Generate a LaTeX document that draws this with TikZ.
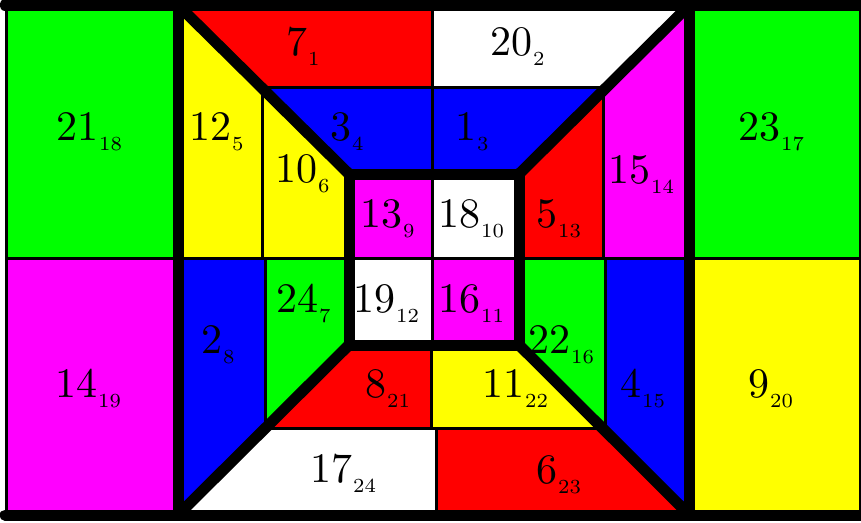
\documentclass[tikz,border=0pt]{standalone}
\usepackage{fontspec}
\newfontfamily\lmten[Extension=.otf]{lmroman10-regular}
\newfontfamily\lmseven[Extension=.otf]{lmroman7-regular}
\definecolor{cR}{RGB}{255,0,0}
\definecolor{cG}{RGB}{0,255,0}
\definecolor{cB}{RGB}{0,0,255}
\definecolor{cY}{RGB}{255,255,0}
\definecolor{cM}{RGB}{255,0,255}
\definecolor{cW}{RGB}{255,255,255}
\newcommand\lab[2]{{\lmten\fontsize{42}{42}\selectfont #1}\kern1pt\raisebox{-10pt}{\lmseven\fontsize{20}{20}\selectfont #2}}
\begin{document}
\begin{tikzpicture}[x=1pt,y=-1pt,
  fineline/.style={line width=3pt, black},
  boldline/.style={line width=11pt, black, line cap=round},
  lbl/.style={anchor=base west, inner sep=0pt, text=black}]
\useasboundingbox (0,0) rectangle (861,522);
% outer panels
\fill[cG] (6,5) rectangle (178,258);
\fill[cM] (6,258) rectangle (178,515);
\fill[cG] (689.5,5) rectangle (860,258);
\fill[cY] (689.5,258) rectangle (860,515);
% top trapezoid
\fill[cR] (178,5) -- (432,5) -- (432,87.5) -- (261.5,87.5) -- cycle;
\fill[cW] (432,5) -- (689.5,5) -- (606.3,87.5) -- (432,87.5) -- cycle;
\fill[cB] (261.5,87.5) -- (432,87.5) -- (432,174) -- (349,174) -- cycle;
\fill[cB] (432,87.5) -- (606.3,87.5) -- (519,174) -- (432,174) -- cycle;
% left trapezoid
\fill[cY] (178,5) -- (262,88) -- (262,258) -- (178,258) -- cycle;
\fill[cY] (262,88) -- (349,174) -- (349,258) -- (262,258) -- cycle;
\fill[cB] (178,258) -- (265.5,258) -- (265.5,428) -- (178,515) -- cycle;
\fill[cG] (265.5,258) -- (349,258) -- (349,345) -- (265.5,428) -- cycle;
% right trapezoid
\fill[cR] (519,174) -- (603.5,90.2) -- (603.5,258) -- (519,258) -- cycle;
\fill[cM] (603.5,90.2) -- (689.5,5) -- (689.5,258) -- (603.5,258) -- cycle;
\fill[cG] (519,258) -- (605.5,258) -- (605.5,431.2) -- (519,345) -- cycle;
\fill[cB] (605.5,258) -- (689.5,258) -- (689.5,515) -- (605.5,431.2) -- cycle;
% bottom trapezoid
\fill[cR] (349,345) -- (431.7,345) -- (431.7,428.5) -- (265,428.5) -- cycle;
\fill[cY] (431.7,345) -- (519,345) -- (602.7,428.5) -- (431.7,428.5) -- cycle;
\fill[cW] (265,428.5) -- (436,428.5) -- (436,515) -- (178,515) -- cycle;
\fill[cR] (436,428.5) -- (602.7,428.5) -- (689.5,515) -- (436,515) -- cycle;
% inner square
\fill[cM] (349,174) rectangle (432,258);
\fill[cW] (432,174) rectangle (519,258);
\fill[cW] (349,258) rectangle (432,345);
\fill[cM] (432,258) rectangle (519,345);
% thin lines
\draw[fineline] (6,5) -- (6,515);
\draw[fineline] (860,5) -- (860,515);
\draw[fineline] (6,258) -- (860,258);
\draw[fineline] (432,5) -- (432,87.5);
\draw[fineline] (432,87.5) -- (432,174);
\draw[fineline] (432,174) -- (432,345);
\draw[fineline] (431.7,345) -- (431.7,428.5);
\draw[fineline] (436,428.5) -- (436,515);
\draw[fineline] (261.5,87.5) -- (606.3,87.5);
\draw[fineline] (265,428.5) -- (602.7,428.5);
\draw[fineline] (262,88) -- (262,258);
\draw[fineline] (265.5,258) -- (265.5,428);
\draw[fineline] (603.5,90.2) -- (603.5,258);
\draw[fineline] (605.5,258) -- (605.5,431.2);
% thick lines
\draw[boldline] (5,5) -- (866,5);
\draw[boldline] (5,515) -- (866,515);
\draw[boldline] (178,5) -- (178,515);
\draw[boldline] (689.5,5) -- (689.5,515);
\draw[boldline] (178,5) -- (349,174);
\draw[boldline] (689.5,5) -- (519,174);
\draw[boldline] (178,515) -- (349,345);
\draw[boldline] (689.5,515) -- (519,345);
\draw[line width=11pt, black, line join=miter] (349,174) rectangle (519,345);
% labels
\node[lbl] (n7) at (286,55) {\lab{7}{1}};
\node[lbl] (n20) at (490,55) {\lab{20}{2}};
\node[lbl] (n21) at (56,140) {\lab{21}{18}};
\node[lbl] (n12) at (189,140) {\lab{12}{5}};
\node[lbl] (n10) at (275,182) {\lab{10}{6}};
\node[lbl] (n3) at (330,140) {\lab{3}{4}};
\node[lbl] (n1) at (455,140) {\lab{1}{3}};
\node[lbl] (n13) at (360,227) {\lab{13}{9}};
\node[lbl] (n18) at (438,227) {\lab{18}{10}};
\node[lbl] (n5) at (536,227) {\lab{5}{13}};
\node[lbl] (n15) at (608,183) {\lab{15}{14}};
\node[lbl] (n23) at (738,140) {\lab{23}{17}};
\node[lbl] (n14) at (55,397) {\lab{14}{19}};
\node[lbl] (n2) at (201,353) {\lab{2}{8}};
\node[lbl] (n24) at (276,312) {\lab{24}{7}};
\node[lbl] (n19) at (353,312) {\lab{19}{12}};
\node[lbl] (n16) at (438,312) {\lab{16}{11}};
\node[lbl] (n22) at (528,353) {\lab{22}{16}};
\node[lbl] (n8) at (365,397) {\lab{8}{21}};
\node[lbl] (n11) at (482,397) {\lab{11}{22}};
\node[lbl] (n4) at (620,397) {\lab{4}{15}};
\node[lbl] (n9) at (748,397) {\lab{9}{20}};
\node[lbl] (n17) at (310,482) {\lab{17}{24}};
\node[lbl] (n6) at (536,483) {\lab{6}{23}};
\end{tikzpicture}
\end{document}
